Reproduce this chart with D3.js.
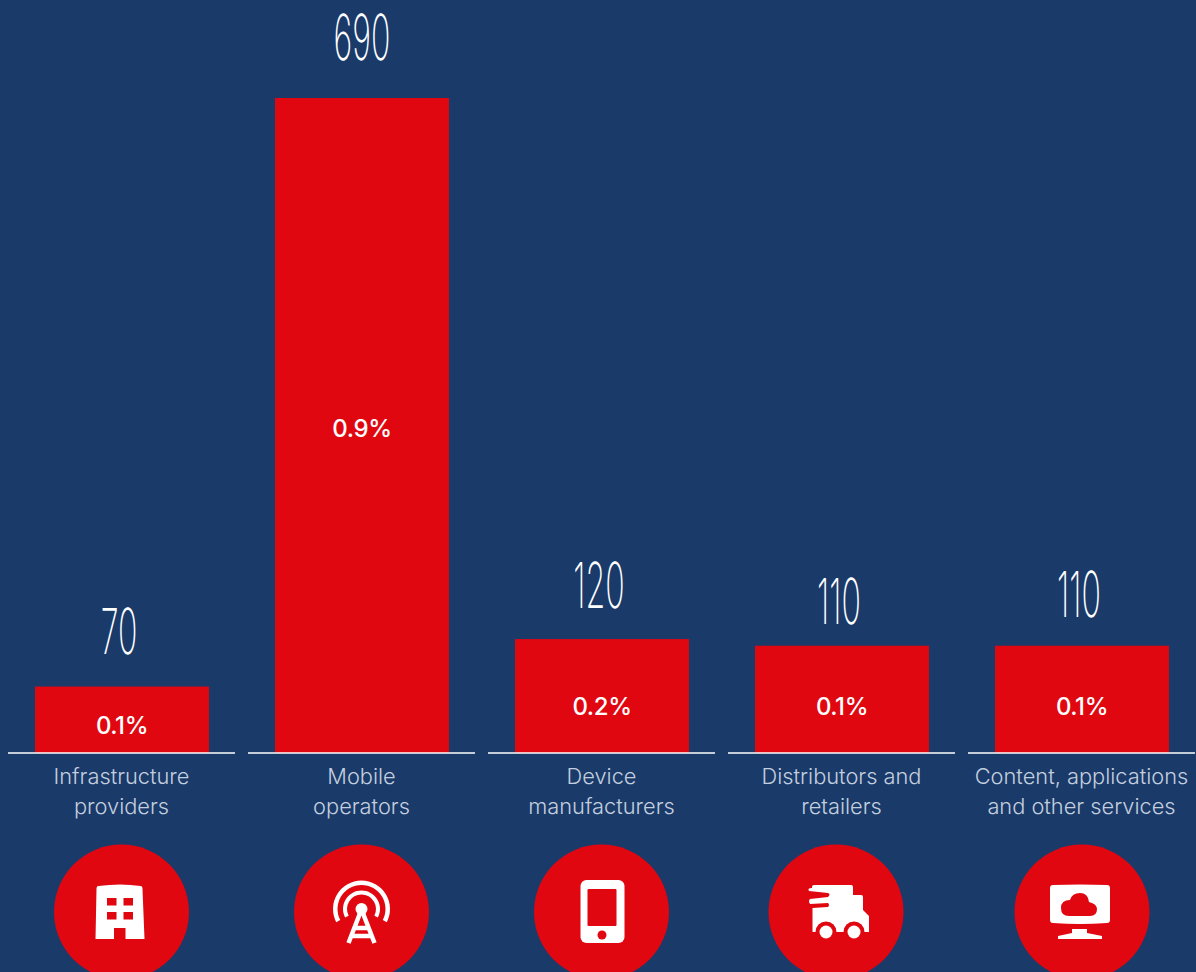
<!DOCTYPE html>
<html>
<head>
<meta charset="utf-8">
<script src="https://cdn.jsdelivr.net/npm/d3@7"></script>
<style>
  html, body { margin: 0; padding: 0; background: #1a3a6a; overflow: hidden; }
  svg { display: block; }
</style>
</head>
<body>
<div id="chart"></div>
<script>
const categories = ["Infrastructure providers", "Mobile operators", "Device manufacturers", "Distributors and retailers", "Content, applications and other services"];
const categoryLines = [["Infrastructure", "providers"], ["Mobile", "operators"], ["Device", "manufacturers"], ["Distributors and", "retailers"], ["Content, applications", "and other services"]];
// printed labels are rounded, bars are a bit more exact
const valueLabels = ["70", "690", "120", "110", "110"];
const barValues = [70, 690, 120, 113, 113];
const shareLabels = ["0.1%", "0.9%", "0.2%", "0.1%", "0.1%"];

const width = 1196, height = 972;
const baseY = 753;
const red = "#e10711", bg = "#1a3a6a";

const svg = d3.select("#chart").append("svg").attr("width", width).attr("height", height);
svg.append("rect").attr("width", width).attr("height", height).attr("fill", bg);

const x = d3.scaleBand().domain(categories).range([2, 1202]).paddingInner(0.275).paddingOuter(0.1375);
const y = d3.scaleLinear().domain([0, 690]).range([baseY, 98]);

// the labels were placed by hand in the original
const labelGap = [33, 38, 31, 22, 29];
const labelShift = [-3, 0, -3, -3, -3];
const shareY = [733.5, 436.5, 714.5, 714.5, 714.5];
const iconX = [121.5, 361.5, 601.5, 836, 1082];

const groups = svg.selectAll("g.col").data(categories).enter().append("g").attr("class", "col");

groups.append("rect")
  .attr("x", d => x(d))
  .attr("y", (d, i) => y(barValues[i]))
  .attr("width", x.bandwidth())
  .attr("height", (d, i) => baseY - y(barValues[i]))
  .attr("fill", red);

groups.append("line")
  .attr("x1", d => x(d) + x.bandwidth() / 2 - 114)
  .attr("x2", d => x(d) + x.bandwidth() / 2 + 113)
  .attr("y1", baseY).attr("y2", baseY)
  .attr("stroke", "#fff").attr("stroke-width", 1.5);

// tall condensed numbers: squeeze a thin face sideways
groups.append("text")
  .text((d, i) => valueLabels[i])
  .attr("transform", (d, i) => `translate(${x(d) + x.bandwidth() / 2 + labelShift[i]},${y(barValues[i]) - labelGap[i]}) scale(0.51,1)`)
  .attr("text-anchor", "middle")
  .attr("font-family", "Inter, sans-serif")
  .attr("font-weight", 250)
  .attr("font-size", 63)
  .attr("fill", "#fff");

groups.append("text")
  .text((d, i) => shareLabels[i])
  .attr("x", d => x(d) + x.bandwidth() / 2)
  .attr("y", (d, i) => shareY[i])
  .attr("text-anchor", "middle")
  .attr("font-family", "Inter, sans-serif")
  .attr("font-weight", 500)
  .attr("font-size", 24)
  .attr("letter-spacing", -0.4)
  .attr("fill", "#fff");

groups.each(function (d, i) {
  const t = d3.select(this).append("text")
    .attr("text-anchor", "middle")
    .attr("font-family", "Inter, sans-serif")
    .attr("font-weight", 300)
    .attr("font-size", 21.8)
    .attr("fill", "#c3cfdf");
  categoryLines[i].forEach((line, k) => {
    t.append("tspan")
      .attr("x", x(d) + x.bandwidth() / 2 - 0.5)
      .attr("y", 783.5 + k * 30)
      .text(line);
  });
});

const icons = svg.selectAll("g.icon").data(categories).enter().append("g")
  .attr("class", "icon")
  .attr("transform", (d, i) => `translate(${iconX[i]},912)`);

icons.append("circle").attr("r", 67.5).attr("fill", red);

function building(g) {
  g.append("path").attr("fill", "#fff")
    .attr("d", "M-23,-26Q-1,-29 19,-26Q21,-26 21,-23L23,27L4,27L4,16L-7.5,16L-7.5,27L-26,27L-25,-23Q-25,-26 -23,-26Z");
  [[-14.5, -14], [2, -14], [-14.5, 0], [2, 0]].forEach(p => {
    g.append("rect").attr("x", p[0]).attr("y", p[1]).attr("width", 9.5).attr("height", 7.5).attr("fill", red);
  });
}

function antenna(g) {
  const arc = d3.arc();
  const a = 2.05;
  [[24, 28.5], [14.5, 18.5]].forEach(r => {
    g.append("path").attr("fill", "#fff").attr("transform", "translate(0,-3)")
      .attr("d", arc({innerRadius: r[0], outerRadius: r[1], startAngle: -a, endAngle: a}));
  });
  g.append("circle").attr("cy", -3).attr("r", 6).attr("fill", "#fff");
  g.append("path").attr("fill", "none").attr("stroke", "#fff").attr("stroke-width", 4.5)
    .attr("d", "M-1,0L-13,31M1,0L13,31M-7,16L7,16M-10,24L10,24");
}

function phone(g) {
  g.append("rect").attr("x", -21).attr("y", -32).attr("width", 44).attr("height", 63).attr("rx", 6).attr("fill", "#fff");
  g.append("rect").attr("x", -14).attr("y", -23).attr("width", 29).attr("height", 37).attr("rx", 1).attr("fill", red);
  g.append("circle").attr("cx", 0.5).attr("cy", 23).attr("r", 4.5).attr("fill", red);
}

function truck(g) {
  g.append("path").attr("fill", "#fff")
    .attr("d", "M-22,-27L15,-27Q17,-27 17,-25L17,-17L25,-17Q27,-17 27,-15L27,-2L33,4L33,20L-23.5,20L-23.5,-4L-8,-5Q-6,-7 -8,-9L-26,-8Q-28,-11 -26,-13L-8,-15Q-5,-18 -8,-19L-27,-21Q-29,-24 -24,-24L-24,-25Q-24,-27 -22,-27Z");
  [-10, 18].forEach(cx => {
    g.append("circle").attr("cx", cx).attr("cy", 20).attr("r", 10.5).attr("fill", red);
    g.append("circle").attr("cx", cx).attr("cy", 20).attr("r", 6.5).attr("fill", "#fff");
  });
}

function monitor(g) {
  g.append("path").attr("fill", "#fff")
    .attr("d", "M-32,-24Q-32,-27 -29,-27Q-2,-28 25,-27Q28,-27 28,-24L28,8Q28,11 25,11Q-2,13 -29,11Q-32,11 -32,8Z");
  g.append("path").attr("fill", red)
    .attr("d", "M-13,4Q-21,4 -21,-4Q-21,-12 -12,-12Q-10,-19 -2,-19Q6,-19 7,-10Q15,-8 15,-3Q15,4 8,4Z");
  g.append("path").attr("fill", "#fff")
    .attr("d", "M-10,17L5,17L5,21L20,24L20,27L-24,27L-24,24L-10,21Z");
}

[building, antenna, phone, truck, monitor].forEach((draw, i) => {
  draw(d3.select(icons.nodes()[i]));
});
</script>
</body>
</html>
